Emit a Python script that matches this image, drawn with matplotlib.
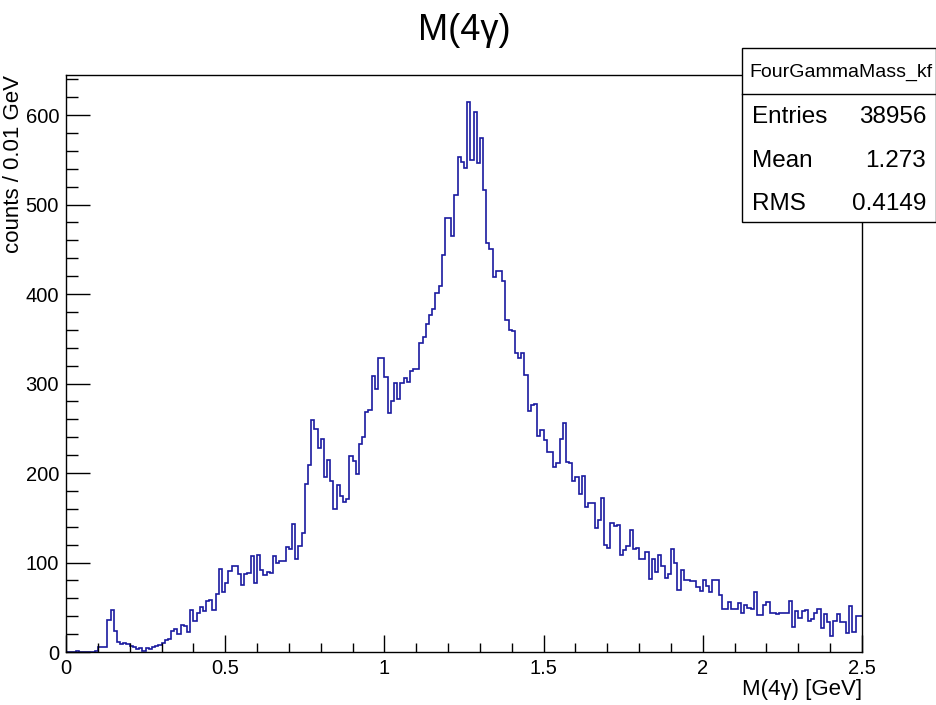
import numpy as np
import matplotlib
matplotlib.use("Agg")
import matplotlib.pyplot as plt
from matplotlib.ticker import MultipleLocator, FixedLocator
from matplotlib.patches import Rectangle

# ---------------- data ----------------
x_min, x_max, n_bins = 0.0, 2.5, 250
counts = [
    0, 0, 0, 1, 0, 0, 0, 0, 0, 1,            # 0.00-0.09
    6, 6, 6, 36, 47, 24, 11, 9, 10, 9,       # 0.10-0.19
    7, 6, 3, 4, 1, 4, 3, 6, 7, 8,            # 0.20-0.29
    10, 13, 14, 23, 26, 20, 30, 29, 22, 47,  # 0.30-0.39
    35, 44, 50, 46, 57, 58, 47, 65, 93, 67,  # 0.40-0.49
    77, 90, 96, 96, 87, 75, 87, 88, 107, 77, # 0.50-0.59
    108, 92, 86, 89, 88, 107, 100, 102, 102, 117,  # 0.60-0.69
    115, 143, 104, 118, 133, 188, 209, 259, 249, 228,  # 0.70-0.79
    238, 195, 214, 191, 160, 187, 174, 168, 171, 219,  # 0.80-0.89
    213, 199, 232, 240, 268, 270, 308, 294, 329, 328,  # 0.90-0.99
    307, 267, 280, 301, 283, 301, 306, 302, 314, 316,  # 1.00-1.09
    316, 345, 352, 366, 377, 383, 401, 409, 444, 485,  # 1.10-1.19
    485, 465, 511, 553, 547, 541, 614, 550, 603, 546,  # 1.20-1.29
    574, 516, 457, 450, 419, 426, 426, 414, 371, 360,  # 1.30-1.39
    359, 334, 328, 334, 310, 269, 276, 277, 241, 248,  # 1.40-1.49
    237, 224, 224, 207, 211, 238, 256, 212, 211, 191,  # 1.50-1.59
    195, 177, 197, 162, 166, 166, 139, 147, 172, 120,  # 1.60-1.69
    116, 144, 141, 142, 108, 114, 118, 136, 115, 116,  # 1.70-1.79
    104, 104, 112, 82, 104, 89, 108, 96, 83, 87,       # 1.80-1.89
    115, 100, 69, 92, 80, 80, 79, 79, 73, 68,          # 1.90-1.99
    80, 74, 67, 80, 80, 64, 48, 48, 56, 48,            # 2.00-2.09
    48, 55, 44, 52, 49, 48, 67, 41, 41, 52,            # 2.10-2.19
    56, 44, 44, 43, 44, 44, 44, 57, 28, 46,            # 2.20-2.29
    38, 46, 47, 35, 37, 44, 48, 27, 43, 34,            # 2.30-2.39
    18, 35, 42, 34, 34, 21, 51, 22, 40, 40,            # 2.40-2.49
]
x_tick_values = [0, 0.5, 1, 1.5, 2, 2.5]
x_tick_labels = ["0", "0.5", "1", "1.5", "2", "2.5"]
y_tick_values = [0, 100, 200, 300, 400, 500, 600]
y_tick_labels = ["0", "100", "200", "300", "400", "500", "600"]
stats_name = "FourGammaMass_kf"
stats_rows = [("Entries", "38956"), ("Mean", "1.273"), ("RMS", "0.4149")]
title = "M(4\u03b3)"
x_title = "M(4\u03b3) [GeV]"
y_title = "counts / 0.01 GeV"

# ---------------- figure ----------------
W, H = 937, 705
plt.rcParams['font.family'] = ['Liberation Sans', 'DejaVu Sans']
fig = plt.figure(figsize=(W / 100, H / 100), dpi=100)

left, right, top, bottom = 66, 862, 75, 652
ax = fig.add_axes([left / W, 1 - bottom / H, (right - left) / W, (bottom - top) / H])

edges = np.linspace(x_min, x_max, n_bins + 1)
ax.stairs(counts, edges, color='#1a1aa0', linewidth=1.2, baseline=None)

ymax = 1.05 * max(counts)
ax.set_xlim(x_min, x_max)
ax.set_ylim(0, ymax)

ax.xaxis.set_major_locator(FixedLocator(x_tick_values))
ax.set_xticklabels(x_tick_labels)
ax.xaxis.set_minor_locator(MultipleLocator(0.1))
ax.yaxis.set_major_locator(FixedLocator(y_tick_values))
ax.set_yticklabels(y_tick_labels)
ax.yaxis.set_minor_locator(MultipleLocator(20))

ax.tick_params(axis='x', which='major', direction='in', length=12.5, width=1,
               labelsize=14.5, pad=5, top=False)
ax.tick_params(axis='x', which='minor', direction='in', length=6.5, width=1, top=False)
ax.tick_params(axis='y', which='major', direction='in', length=17, width=1,
               labelsize=14.5, pad=5, right=False)
ax.tick_params(axis='y', which='minor', direction='in', length=8.5, width=1, right=False)
for s in ax.spines.values():
    s.set_linewidth(1)

# titles
fig.text(464 / W, 1 - 31 / H, title, ha='center', va='center', fontsize=26)
fig.text(right / W, 1 - 690 / H, x_title, ha='right', va='center', fontsize=16)
fig.text(14 / W, 1 - top / H, y_title, ha='center', va='top', rotation=90, fontsize=16)

# stats box
bx0, bx1, by0, by1, bsep = 742, 936, 48, 222, 94
fig.patches.append(Rectangle((bx0 / W, 1 - by1 / H), (bx1 - bx0) / W, (by1 - by0) / H,
                             transform=fig.transFigure, facecolor='white',
                             edgecolor='black', linewidth=1, zorder=5))
fig.lines.append(plt.Line2D([bx0 / W, bx1 / W], [1 - bsep / H, 1 - bsep / H],
                            transform=fig.transFigure, color='black', linewidth=1, zorder=6))
fig.text(841 / W, 1 - 72 / H, stats_name, ha='center', va='center',
         fontsize=14, zorder=7)
row_y = [117, 161, 204]
for (lab, val), yy in zip(stats_rows, row_y):
    fig.text(752 / W, 1 - yy / H, lab, ha='left', va='center', fontsize=17.5, zorder=7)
    fig.text(926 / W, 1 - yy / H, val, ha='right', va='center', fontsize=17.5, zorder=7)

fig.savefig("out.png", dpi=100)
